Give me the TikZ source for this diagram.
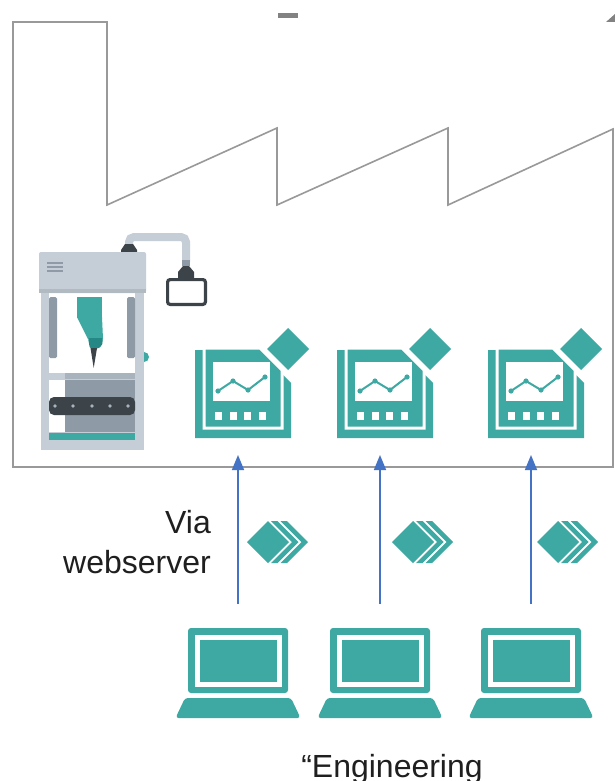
\documentclass[tikz,border=0pt]{standalone}
\usepackage{fontspec}
\setmainfont{Liberation Sans}
\usetikzlibrary{arrows.meta}

\definecolor{tealicon}{RGB}{62,168,163}
\definecolor{tealdeep}{RGB}{38,136,132}
\definecolor{steel}{RGB}{197,206,214}
\definecolor{steelmid}{RGB}{142,155,167}
\definecolor{steelshelf}{RGB}{168,179,189}
\definecolor{ink}{RGB}{60,67,73}
\definecolor{wallgray}{RGB}{153,153,153}
\definecolor{linkblue}{RGB}{68,114,196}

\tikzset{
  wallline/.style={draw=wallgray, line width=1.6pt, line join=miter},
  linkarrow/.style={draw=linkblue, line width=1.6pt,
    -{Triangle[width=12pt,length=15pt]}, shorten <=24pt, shorten >=16pt},
  txt/.style={font=\fontsize{32}{36}\selectfont, text=black!88, inner sep=0pt},
  box/.style={inner sep=0pt, outer sep=0pt, draw=none},
}

\begin{document}
\begin{tikzpicture}[x=1pt, y=-1pt]
\useasboundingbox (0,0) rectangle (615,781);
\fill[white] (0,0) rectangle (615,781);

% factory hall with chimney and sawtooth roof
\draw[wallline] (13,467) -- (13,22) -- (107,22) -- (107,205) -- (277,128) -- (277,205)
  -- (448,128) -- (448,205) -- (613,129) -- (613,467) -- cycle;
% roof fittings at the top edge
\fill[wallgray!85!black] (278,13) rectangle (298,18);
\fill[wallgray!85!black] (606,22) -- (615,14) -- (615,22) -- cycle;

% ---- production machine ----
% supply pipe to the operator display
\draw[steel, line width=8pt, rounded corners=5pt] (129,252) -- (129,237) -- (186,237) -- (186,262);
\fill[ink] (125,244) -- (133,244) -- (137,250) -- (137,253) -- (121,253) -- (121,250) -- cycle;
\fill[steelmid] (182,260) rectangle (190,266);
\fill[ink] (183,266) -- (189,266) -- (194,272) -- (194,279) -- (178,279) -- (178,272) -- cycle;
\draw[ink, line width=3.2pt, fill=white, rounded corners=2.5pt] (167.6,279.6) rectangle (205.4,304.4);

% side knob
\fill[tealicon] (144,357) circle (5);
% frame
\fill[steel] (41,293) rectangle (144,450);
\fill[white] (49,293) rectangle (135,373);
\fill[steelmid, rounded corners=1.5pt] (49,297) rectangle (57,358);
\fill[steelmid, rounded corners=1.5pt] (127,297) rectangle (135,358);
% head housing
\fill[steel, rounded corners=2pt] (39,252) rectangle (146,293);
\fill[steel!90!black] (39,289) rectangle (146,293);
\foreach \yy in {263,267,271}
  \draw[steelmid, line width=1.8pt] (47,\yy) -- (63,\yy);
% tool head
\fill[tealicon] (77,297) rectangle (102,318);
\fill[tealicon] (77,317) -- (102,317) -- (103,339) -- (88,339) -- cycle;
\fill[tealdeep, rounded corners=2pt] (88,338) -- (103,338) -- (102,346) -- (97,349) -- (90,349) -- cycle;
\fill[ink] (90.5,348) -- (97,348) -- (93.7,368) -- cycle;
% work table and conveyor
\fill[steelshelf] (65,373) rectangle (135,378.5);
\fill[white] (49,380) rectangle (65,432);
\fill[steelmid] (65,380) rectangle (135,432);
\fill[ink, rounded corners=5pt] (49,397) rectangle (135,415);
\foreach \xx in {55,73,92,110,128}
  \fill[steelshelf] (\xx,406) circle (1.8);
\fill[tealicon] (49,433) rectangle (135,440);

% ---- HMI panels, engineering laptops and their links ----
\foreach \cx/\i in {238/1,380/2,531/3} {
  \begin{scope}[xshift=\cx pt]
    % HMI panel
    \fill[tealicon] (-43,350) -- (20,350) -- (53,383) -- (53,438) -- (-43,438) -- cycle;
    \filldraw[fill=tealicon, draw=white, line width=3pt, line join=miter]
      (-34,348) -- (22,348) -- (44,370) -- (44,428) -- (-34,428) -- cycle;
    \fill[tealicon] (29,349) -- (50,328) -- (71,349) -- (50,370) -- cycle;
    \fill[white] (-25,362) rectangle (32,401);
    \draw[tealicon, line width=2pt, line join=round] (-20,391) -- (-5,381) -- (10,390) -- (27,377);
    \foreach \px/\py in {-20/391,-5/381,10/390,27/377}
      \fill[tealicon] (\px,\py) circle (2.6);
    \foreach \sx in {-23,-8.5,6,20.5}
      \fill[white] (\sx,412) rectangle ++(7,8);
    \node[box, minimum width=96pt, minimum height=90pt] (hmi\i) at (0,394) {};
    % laptop
    \fill[tealicon, rounded corners=3pt] (-50,628) rectangle (50,693);
    \fill[white] (-43.5,634.5) rectangle (43.5,687);
    \fill[tealicon] (-38.5,640) rectangle (38.5,682);
    \fill[tealicon, rounded corners=3pt] (-53,698) -- (53,698) -- (62.5,718) -- (-62.5,718) -- cycle;
    \node[box, minimum width=125pt, minimum height=90pt] (lap\i) at (0,673) {};
  \end{scope}
}
\foreach \i in {1,2,3}
  \draw[linkarrow] (lap\i.north) -- (hmi\i.south);

% data transfer symbols
\foreach \dx in {268,413,558} {
  \begin{scope}[xshift=\dx pt]
    \fill[tealicon] (-21,542) -- (0,521) -- (21,542) -- (0,563) -- cycle;
    \fill[tealicon] (3,521) -- (9.5,521) -- (30.5,542) -- (9.5,563) -- (3,563) -- (24,542) -- cycle;
    \fill[tealicon] (12.5,521) -- (19,521) -- (40,542) -- (19,563) -- (12.5,563) -- (33.5,542) -- cycle;
  \end{scope}
}

% captions
\node[txt, anchor=base east] (via) at (211,533) {Via};
\node[txt, anchor=base east] (websrv) at (211,573) {webserver};
\node[txt, anchor=base] (eng) at (392,777) {“Engineering};
\end{tikzpicture}
\end{document}
